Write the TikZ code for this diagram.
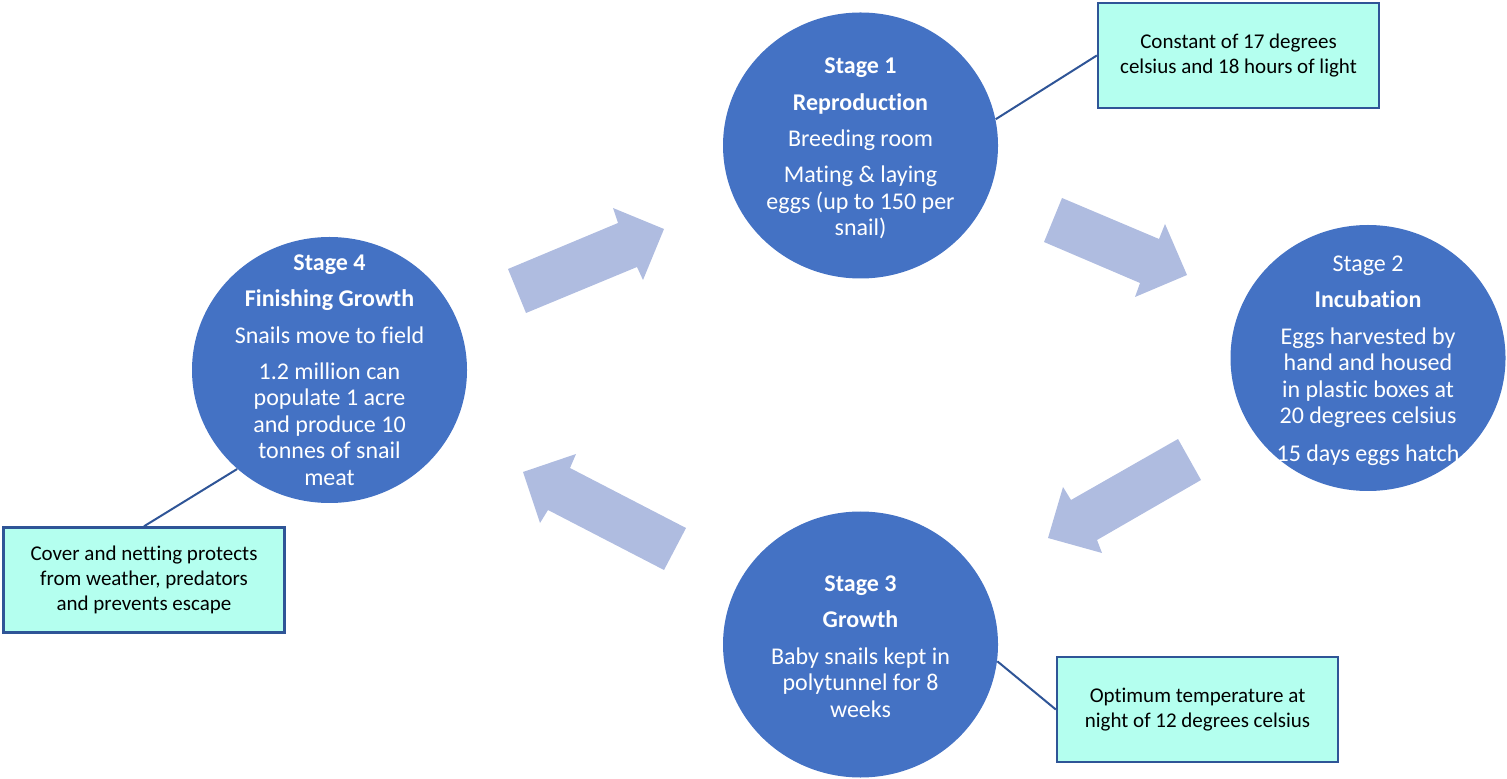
\documentclass[tikz,border=0pt]{standalone}
\usepackage{fontspec}
\setmainfont{Carlito}[Ligatures=NoCommon]
\usetikzlibrary{shapes.geometric}
\definecolor{stageblue}{HTML}{4472C4}
\definecolor{arrowblue}{HTML}{AFBCE0}
\definecolor{boxfill}{HTML}{B4FFEF}
\definecolor{boxline}{HTML}{2F5597}
\begin{document}
\begin{tikzpicture}[x=0.5pt,y=-0.5pt,
  stage/.style={ellipse, fill=stageblue, draw=none, minimum width=137.5pt, minimum height=133pt, inner sep=0pt},
  stagetext/.style={text=white, align=center, font=\fontsize{12}{13.2}\selectfont, inner sep=0pt},
  note/.style={rectangle, fill=boxfill, draw=boxline, line width=1.2pt, minimum width=140.5pt, minimum height=52.5pt, align=center, font=\fontsize{10.5}{12.5}\selectfont, inner sep=0pt},
  link/.style={draw=boxline, line width=1pt},
  blockarrow/.style={fill=arrowblue}]
\useasboundingbox (0,0) rectangle (1507,779);

% block arrows
\fill[blockarrow] (508,269) -- (618,223) -- (613,208) -- (664,229) -- (643,280) -- (637,267) -- (526,313) -- cycle;
\fill[blockarrow] (1062,198) -- (1159,239) -- (1165,224) -- (1187,275) -- (1135,297) -- (1140,283) -- (1044,242) -- cycle;
\fill[blockarrow] (1178,439) -- (1201,480) -- (1097,540) -- (1102,553) -- (1048,538) -- (1063,487) -- (1071,500) -- cycle;
\fill[blockarrow] (686,528) -- (664,570) -- (548,510) -- (540,523) -- (523,472) -- (576,454) -- (570,468) -- cycle;

% stages
\node[stage] (s1) at (860.5,145.5) {};
\node[stage] (s2) at (1368,358) {};
\node[stage] (s3) at (860.5,644.5) {};
\node[stage] (s4) at (329.5,370) {};

\node[stagetext, yshift=-1.5pt] (s1t) at (s1.center) {\textbf{Stage 1}\\[5pt]\textbf{Reproduction}\\[5pt]Breeding room\\[5pt]Mating \& laying\\eggs (up to 150 per\\snail)};
\node[stagetext, yshift=-1.5pt] (s2t) at (s2.center) {Stage 2\\[5pt]\textbf{Incubation}\\[5pt]Eggs harvested by\\hand and housed\\in plastic boxes at\\20 degrees celsius\\[6pt]15 days eggs hatch};
\node[stagetext, yshift=-1pt] (s3t) at (s3.center) {\textbf{Stage 3}\\[5pt]\textbf{Growth}\\[5pt]Baby snails kept in\\polytunnel for 8\\weeks};
\node[stagetext] (s4t) at (s4.center) {\textbf{Stage 4}\\[5pt]\textbf{Finishing Growth}\\[5pt]Snails move to field\\[5pt]1.2 million can\\populate 1 acre\\and produce 10\\tonnes of snail\\meat};

% notes
\node[note] (b1) at (1238.5,55.5) {Constant of 17 degrees\\celsius and 18 hours of light};
\node[note] (b2) at (144,580) {Cover and netting protects\\from weather, predators\\and prevents escape};
\node[note] (b3) at (1197.5,709.5) {Optimum temperature at\\night of 12 degrees celsius};

% links
\draw[link] (s1.11) -- (b1.west);
\draw[link] (s4.227) -- (b2.north);
\draw[link] (s3.-7) -- (b3.west);
\end{tikzpicture}
\end{document}
